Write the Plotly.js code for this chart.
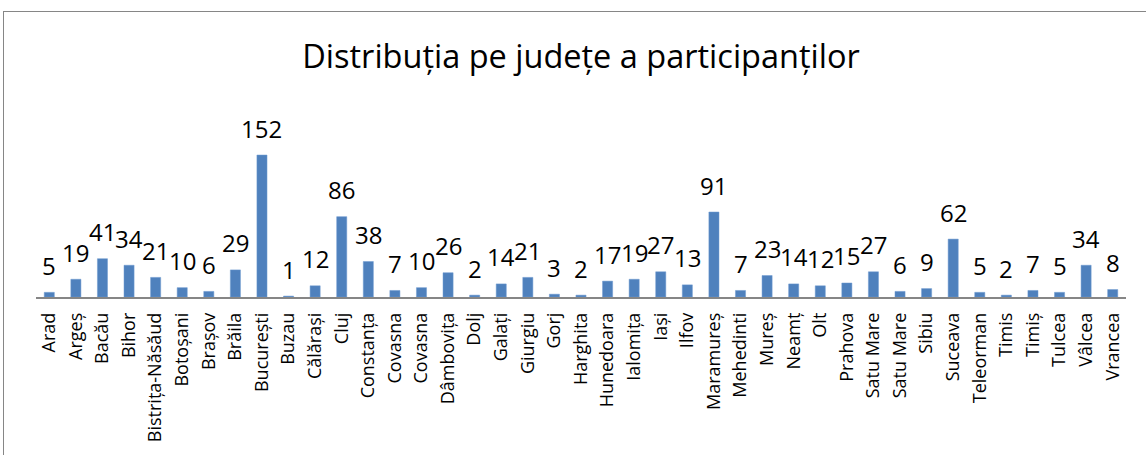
<!DOCTYPE html>
<html>
<head>
<meta charset="utf-8">
<script src="https://cdn.plot.ly/plotly-3.0.1.min.js"></script>
<style>
  html, body { margin: 0; padding: 0; background: #fff; }
  #wrap { position: relative; width: 1146px; height: 455px; overflow: hidden; }
  #chart { position: absolute; left: 0; top: 0; width: 1146px; height: 455px; }
  #frame { position: absolute; left: 3px; top: 11px; width: 1200px; height: 500px;
           border: 1px solid #868686; pointer-events: none; }
</style>
</head>
<body>
<div id="wrap">
  <div id="chart"></div>
  <div id="frame"></div>
</div>
<script>
const chartTitle = "Distribuția pe județe a participanților";
const categories = ["Arad","Argeș","Bacău","Bihor","Bistrița-Năsăud","Botoșani","Brașov","Brăila","București","Buzau","Călărași","Cluj","Constanța","Covasna","Covasna","Dâmbovița","Dolj","Galați","Giurgiu","Gorj","Harghita","Hunedoara","Ialomița","Iași","Ilfov","Maramureș","Mehedinti","Mureș","Neamț","Olt","Prahova","Satu Mare","Satu Mare","Sibiu","Suceava","Teleorman","Timis","Timiș","Tulcea","Vâlcea","Vrancea"];
const participants = [5,19,41,34,21,10,6,29,152,1,12,86,38,7,10,26,2,14,21,3,2,17,19,27,13,91,7,23,14,12,15,27,6,9,62,5,2,7,5,34,8];

const positions = categories.map((_, i) => i);

const trace = {
  type: 'bar',
  x: positions,
  y: participants,
  marker: { color: '#4F81BD', line: { color: '#6F9AD0', width: 0.5 } },
  hoverinfo: 'skip'
};

const annotations = participants.map((v, i) => ({
  x: positions[i], y: v, xref: 'x', yref: 'y',
  text: String(v), showarrow: false,
  yanchor: 'middle', yshift: 27,
  font: { family: 'Open Sans, sans-serif', size: 24, color: '#000' }
}));

const layout = {
  width: 1146, height: 455,
  margin: { l: 36, r: 20, t: 147, b: 158 },
  paper_bgcolor: '#fff', plot_bgcolor: '#fff',
  showlegend: false,
  bargap: 0.62,
  title: {
    text: chartTitle,
    font: { family: 'Open Sans, sans-serif', size: 32.5, color: '#000' },
    x: 0.507, xanchor: 'center', y: 0.875, yanchor: 'middle'
  },
  xaxis: {
    range: [-0.5, categories.length - 0.5],
    tickmode: 'array', tickvals: positions, ticktext: categories,
    tickangle: -90, ticks: '', ticklabelstandoff: 7, showgrid: false, zeroline: false,
    showline: true, linecolor: '#868686', linewidth: 1.5,
    tickfont: { family: 'Open Sans, sans-serif', size: 18, color: '#000' },
    fixedrange: true
  },
  yaxis: {
    range: [0, 160.6], visible: false, showgrid: false, zeroline: false, fixedrange: true
  },
  annotations: annotations
};

Plotly.newPlot('chart', [trace], layout, { staticPlot: true, displayModeBar: false });
</script>
</body>
</html>
